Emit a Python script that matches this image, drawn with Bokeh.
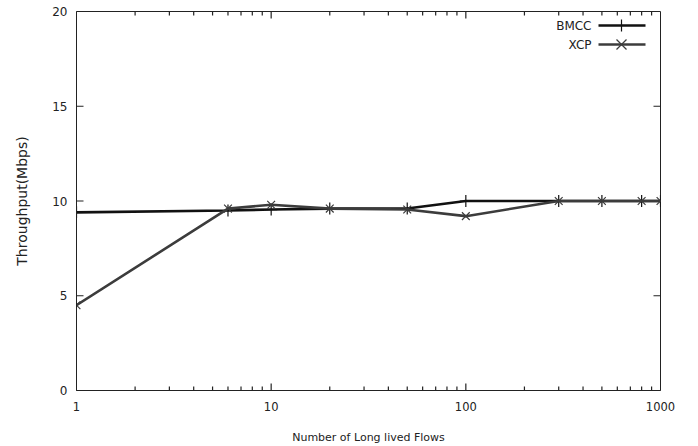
import math
from bokeh.plotting import figure
from bokeh.models import FixedTicker, Label, Arrow, Range1d, NumeralTickFormatter
from bokeh.embed import file_html
from bokeh.resources import INLINE

flows = [1, 6, 10, 20, 50, 100, 300, 500, 800, 1000]
bmcc = [9.4, 9.5, 9.55, 9.6, 9.6, 10.0, 10.0, 10.0, 10.0, 10.0]
xcp = [4.5, 9.6, 9.8, 9.6, 9.55, 9.2, 10.0, 10.0, 10.0, 10.0]
y_ticks = [0, 5, 10, 15, 20]
x_ticks = [1, 10, 100, 1000]
x_minor = [m * d for d in (1, 10, 100) for m in range(2, 10)]
X_LO, X_HI, Y_LO, Y_HI = 1, 1000, 0, 20

FONT = "DejaVu Sans"
W, H = 698, 446
BL, BR, BT, BB = 76, 38, 11, 55
FRAME_H = H - BT - BB
TICK = "#222222"

p = figure(width=W, height=H, x_axis_type="log", x_range=Range1d(X_LO, X_HI), y_range=Range1d(Y_LO, Y_HI),
           output_backend="svg", toolbar_location=None,
           min_border_left=BL, min_border_right=BR, min_border_top=BT, min_border_bottom=BB)
p.grid.visible = False
p.outline_line_color = TICK
p.background_fill_color = "white"
p.border_fill_color = "white"

for ax in (p.xaxis[0], p.yaxis[0]):
    ax.major_tick_in = 0
    ax.major_tick_out = 0
    ax.minor_tick_in = 0
    ax.minor_tick_out = 0
    ax.major_tick_line_color = None
    ax.minor_tick_line_color = None
    ax.axis_line_color = TICK
    ax.major_label_text_font = FONT
    ax.major_label_text_color = "#222222"
    ax.axis_label_text_font = FONT
    ax.axis_label_text_font_style = "normal"
    ax.axis_label_text_color = "#222222"

xa = p.xaxis[0]
xa.ticker = FixedTicker(ticks=x_ticks)
xa.formatter = NumeralTickFormatter(format="0")
xa.axis_label = "Number of Long lived Flows"
xa.major_label_standoff = 11
xa.axis_label_standoff = 17
xa.major_label_text_font_size = "11.5px"
xa.axis_label_text_font_size = "11px"

ya = p.yaxis[0]
ya.ticker = FixedTicker(ticks=y_ticks)
ya.axis_label = "Throughput(Mbps)"
ya.major_label_standoff = 9
ya.axis_label_standoff = 19
ya.major_label_text_font_size = "12px"
ya.axis_label_text_font_size = "14px"

# inward (gnuplot-style) tick marks: dash markers centred on the frame edges, clipped by the frame
inner = [t for t in y_ticks if Y_LO < t < Y_HI]
p.scatter([X_LO] * len(inner), inner, marker="dash", size=14, line_color=TICK, line_width=1.2)
p.scatter([X_HI] * len(inner), inner, marker="dash", size=14, line_color=TICK, line_width=1.2)
xin = [t for t in x_ticks if X_LO < t < X_HI]
for yv in (Y_LO, Y_HI):
    p.scatter(xin, [yv] * len(xin), marker="dash", angle=math.pi / 2, size=14, line_color=TICK, line_width=1.2)
    p.scatter(x_minor, [yv] * len(x_minor), marker="dash", angle=math.pi / 2, size=8, line_color=TICK, line_width=1.2)

p.line(flows, bmcc, line_color="#111111", line_width=2.6)
p.scatter(flows, bmcc, marker="cross", size=12, line_color="#111111", line_width=1.2)
p.line(flows, xcp, line_color="#3c3c3c", line_width=2.6)
p.scatter(flows, xcp, marker="x", size=11, line_color="#3c3c3c", line_width=1.2)

# legend (gnuplot style: label left, sample right); screen units relative to frame
def leg(row_y, text, color, kind):
    y = FRAME_H - (row_y - BT)
    fx = lambda cx: cx - BL
    p.add_layout(Label(x=fx(591), y=y, x_units="screen", y_units="screen", text=text,
                       text_align="right", text_baseline="middle", text_font=FONT,
                       text_font_size="12px", text_color="#222222"))
    p.add_layout(Arrow(x_start=fx(598), y_start=y, x_end=fx(645), y_end=y, start_units="screen",
                       end_units="screen", end=None, line_color=color, line_width=2.6))
    cx = fx(621)
    if kind == "cross":
        p.add_layout(Arrow(x_start=cx, y_start=y - 6, x_end=cx, y_end=y + 6, start_units="screen",
                           end_units="screen", end=None, line_color=color, line_width=1.2))
    else:
        for d in (1, -1):
            p.add_layout(Arrow(x_start=cx - 5, y_start=y - 5 * d, x_end=cx + 5, y_end=y + 5 * d,
                               start_units="screen", end_units="screen", end=None,
                               line_color=color, line_width=1.2))

leg(26, "BMCC", "#111111", "cross")
leg(45, "XCP", "#3c3c3c", "x")

open("out.html", "w").write(file_html(p, INLINE))
